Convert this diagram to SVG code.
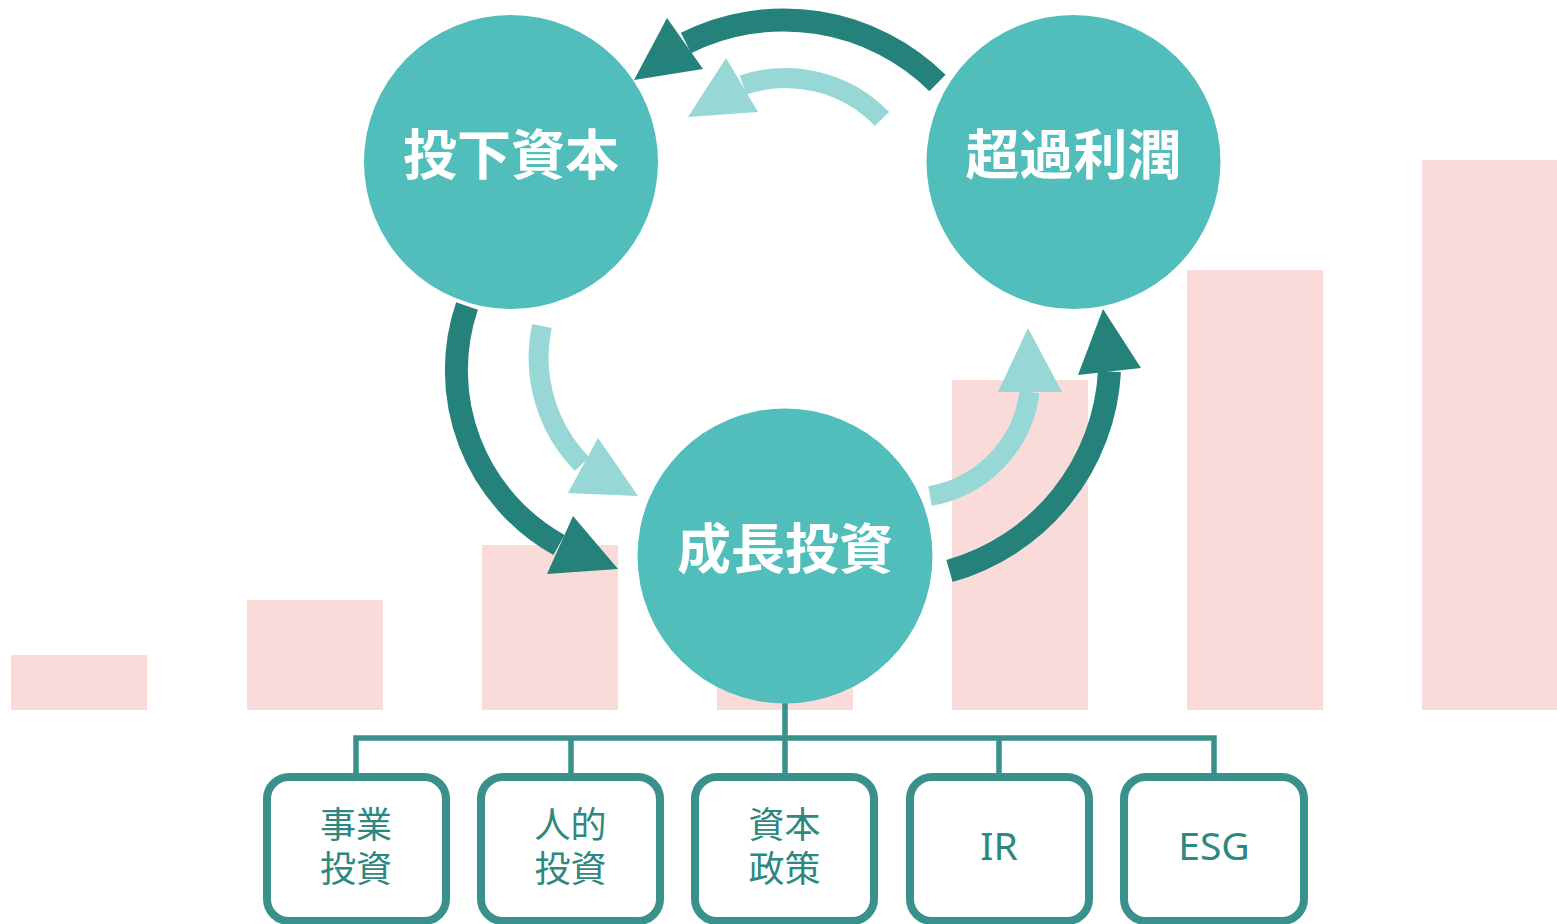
<svg xmlns="http://www.w3.org/2000/svg" width="1557" height="924" viewBox="0 0 1557 924">
<style>
.bar{fill:#f9dcda}
.circ{fill:#52bebb}
.ct{font-family:"Noto Sans CJK JP","Noto Sans CJK SC",sans-serif;font-weight:bold;font-size:54px;fill:#ffffff;text-anchor:middle}
.dk{fill:none;stroke:#25827a;stroke-width:23}
.lt{fill:none;stroke:#97d7d5;stroke-width:20}
.dkh{fill:#25827a}
.lth{fill:#97d7d5}
.tree{fill:none;stroke:#3a918b;stroke-width:5.5}
.box{fill:#ffffff;stroke:#3a918b;stroke-width:8}
.bt{font-family:"Noto Sans CJK JP","Noto Sans CJK SC",sans-serif;font-size:36px;fill:#2e8880;text-anchor:middle}
.bl{font-family:"Noto Sans","Open Sans",sans-serif;font-size:39px;fill:#2e8880;text-anchor:middle}
</style>
<g id="bars">
<rect class="bar" x="11" y="655" width="136" height="55"/>
<rect class="bar" x="247" y="600" width="136" height="110"/>
<rect class="bar" x="482" y="545" width="136" height="165"/>
<rect class="bar" x="717" y="490" width="136" height="220"/>
<rect class="bar" x="952" y="380" width="136" height="330"/>
<rect class="bar" x="1187" y="270" width="136" height="440"/>
<rect class="bar" x="1422" y="160" width="135" height="550"/>
</g>
<g id="connectors">
<path class="dk" d="M937.5,83 A219,219 0 0 0 686,43"/>
<polygon class="dkh" points="634,80 667,18 703,69"/>
<path class="lt" d="M882,119 A134,134 0 0 0 743,85"/>
<polygon class="lth" points="688,117 726,58 758,112"/>
<path class="dk" d="M467,306 A200,200 0 0 0 559,545"/>
<polygon class="dkh" points="618,569 573,516 547,574"/>
<path class="lt" d="M542,326 A152,152 0 0 0 582,464"/>
<polygon class="lth" points="638,496 598,438 568,493"/>
<path class="dk" d="M949.5,571 A220,220 0 0 0 1109.5,371.5"/>
<polygon class="dkh" points="1103,309 1078,375 1141,368"/>
<path class="lt" d="M930,496 A121,121 0 0 0 1029.5,392"/>
<polygon class="lth" points="1028,328 998,392 1062,392"/>
<path class="tree" d="M785,700 V773 M356,773 V738 H1214 V773 M571,738 V773 M999,738 V773"/>
</g>
<g id="node-touka">
<circle class="circ" cx="511" cy="162" r="147"/>
<text class="ct" x="511" y="175">投下資本</text>
</g>
<g id="node-choka">
<circle class="circ" cx="1073.5" cy="162" r="147"/>
<text class="ct" x="1073.5" y="175">超過利潤</text>
</g>
<g id="node-seicho">
<circle class="circ" cx="785" cy="556" r="147.5"/>
<text class="ct" x="785" y="569">成長投資</text>
</g>
<g id="box-jigyo">
<rect class="box" x="267" y="777" width="179" height="144" rx="22"/>
<text class="bt" x="356" y="838">事業</text>
<text class="bt" x="356" y="882">投資</text>
</g>
<g id="box-jinteki">
<rect class="box" x="481" y="777" width="179" height="144" rx="22"/>
<text class="bt" x="570.5" y="838">人的</text>
<text class="bt" x="570.5" y="882">投資</text>
</g>
<g id="box-shihon">
<rect class="box" x="695" y="777" width="179" height="144" rx="22"/>
<text class="bt" x="784.5" y="838">資本</text>
<text class="bt" x="784.5" y="882">政策</text>
</g>
<g id="box-ir">
<rect class="box" x="910" y="777" width="179" height="144" rx="22"/>
<text class="bl" x="999" y="860">IR</text>
</g>
<g id="box-esg">
<rect class="box" x="1124" y="777" width="180" height="144" rx="22"/>
<text class="bl" x="1214" y="860">ESG</text>
</g>
</svg>
